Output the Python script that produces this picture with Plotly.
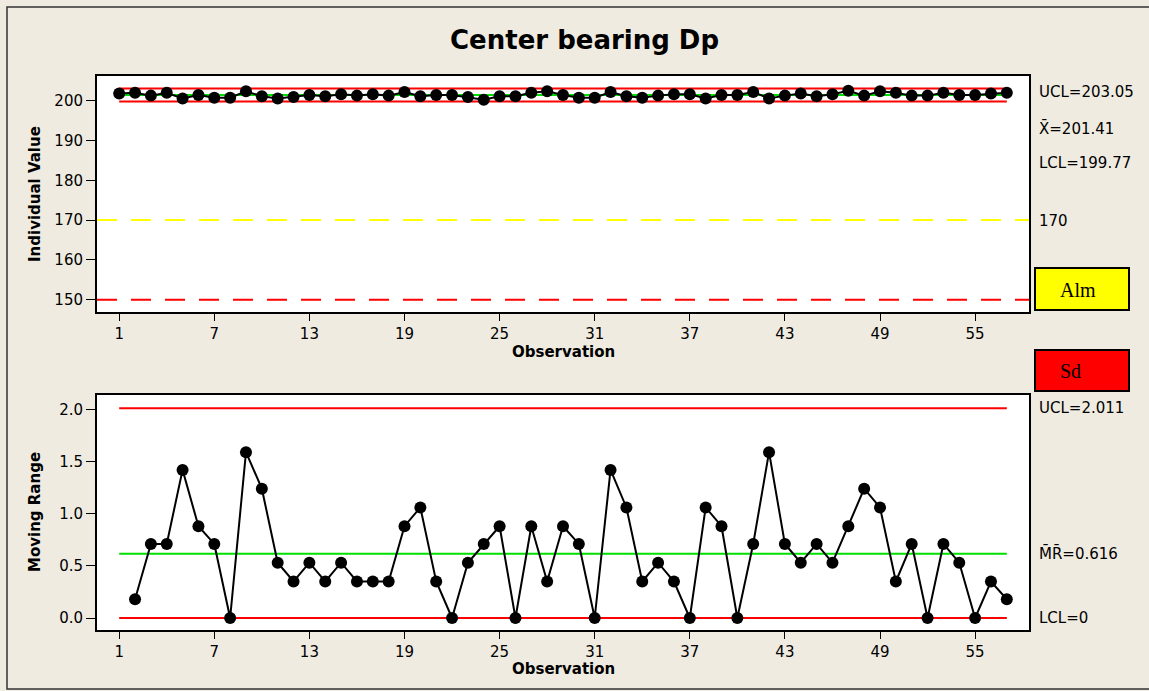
import plotly.graph_objects as go

# ---------------- data ----------------
observations = list(range(1, 58))
individual_values = [
    201.80, 201.98, 201.27, 201.98, 200.57, 201.45, 200.74, 200.74, 202.34, 201.10,
    200.57, 200.92, 201.45, 201.10, 201.63, 201.27, 201.63, 201.27, 202.16, 201.10,
    201.45, 201.45, 200.92, 200.21, 201.10, 201.10, 201.98, 202.34, 201.45, 200.74,
    200.74, 202.16, 201.10, 200.74, 201.27, 201.63, 201.63, 200.57, 201.45, 201.45,
    202.16, 200.57, 201.27, 201.80, 201.10, 201.63, 202.51, 201.27, 202.34, 201.98,
    201.27, 201.27, 201.98, 201.45, 201.45, 201.80, 201.98,
]
mr_observations = list(range(2, 58))
moving_ranges = [
    0.18, 0.71, 0.71, 1.42, 0.88, 0.71, 0.00, 1.59, 1.24, 0.53,
    0.35, 0.53, 0.35, 0.53, 0.35, 0.35, 0.35, 0.88, 1.06, 0.35,
    0.00, 0.53, 0.71, 0.88, 0.00, 0.88, 0.35, 0.88, 0.71, 0.00,
    1.42, 1.06, 0.35, 0.53, 0.35, 0.00, 1.06, 0.88, 0.00, 0.71,
    1.59, 0.71, 0.53, 0.71, 0.53, 0.88, 1.24, 1.06, 0.35, 0.71,
    0.00, 0.71, 0.53, 0.00, 0.35, 0.18,
]
ucl_x, center_x, lcl_x = 203.05, 201.41, 199.77
alarm_limit, stop_limit = 170, 150
ucl_mr, center_mr, lcl_mr = 2.011, 0.616, 0
x_ticks = [1, 7, 13, 19, 25, 31, 37, 43, 49, 55]
y1_ticks = [150, 160, 170, 180, 190, 200]
y2_ticks = [0.0, 0.5, 1.0, 1.5, 2.0]

title_text = "Center bearing Dp"
right_labels_top = ["UCL=203.05", "X\u0304=201.41", "LCL=199.77", "170"]
right_labels_bottom = ["UCL=2.011", "M\u0304R\u0304=0.616", "LCL=0"]

# ---------------- layout helpers ----------------
W, H = 1149, 691
def px(x):
    return x / W
def py(y):
    return 1 - y / H

FONT = "DejaVu Sans"
RED, GREEN, YEL = "#FF0000", "#00E000", "#FFFF00"
BG = "#EFEBE1"

fig = go.Figure()

first, last = observations[0], observations[-1]

# Top: control lines
for val, col in [(ucl_x, RED), (lcl_x, RED), (center_x, GREEN)]:
    fig.add_trace(go.Scatter(x=[first, last], y=[val, val], mode="lines",
                             line=dict(color=col, width=2), xaxis="x", yaxis="y",
                             hoverinfo="skip", showlegend=False))
fig.add_trace(go.Scatter(x=observations, y=individual_values, mode="lines+markers",
                         line=dict(color="black", width=2),
                         marker=dict(color="black", size=12),
                         xaxis="x", yaxis="y", showlegend=False))

# Bottom: control lines
for val, col in [(ucl_mr, RED), (lcl_mr, RED), (center_mr, GREEN)]:
    fig.add_trace(go.Scatter(x=[first, last], y=[val, val], mode="lines",
                             line=dict(color=col, width=2), xaxis="x2", yaxis="y2",
                             hoverinfo="skip", showlegend=False))
fig.add_trace(go.Scatter(x=mr_observations, y=moving_ranges, mode="lines+markers",
                         line=dict(color="black", width=2),
                         marker=dict(color="black", size=12),
                         xaxis="x2", yaxis="y2", showlegend=False))

shapes = [
    # alarm / stop dashed lines across full plot width
    dict(type="line", xref="x domain", yref="y", x0=0, x1=1, y0=alarm_limit, y1=alarm_limit,
         line=dict(color=YEL, width=2, dash="20px,14px")),
    dict(type="line", xref="x domain", yref="y", x0=0, x1=1, y0=stop_limit, y1=stop_limit,
         line=dict(color=RED, width=2, dash="20px,14px")),
    # legend boxes
    dict(type="rect", xref="paper", yref="paper", x0=px(1035), x1=px(1129), y0=py(310), y1=py(268),
         fillcolor=YEL, line=dict(color="black", width=2)),
    dict(type="rect", xref="paper", yref="paper", x0=px(1035), x1=px(1129), y0=py(391), y1=py(350),
         fillcolor=RED, line=dict(color="black", width=2)),
    # outer border
    dict(type="rect", xref="paper", yref="paper", x0=px(7), x1=px(1160), y0=py(689), y1=py(7),
         line=dict(color="#333333", width=1.5)),
]

def ann(text, x, y, size=15, family=FONT, angle=0, xanchor="center"):
    return dict(text=text, xref="paper", yref="paper", x=px(x), y=py(y),
                xanchor=xanchor, yanchor="middle", textangle=angle, showarrow=False,
                font=dict(family=family, size=size, color="black"))

annotations = [
    ann("<b>" + title_text + "</b>", 584, 40, size=26),
    ann("<b>Individual Value</b>", 35, 194, angle=-90),
    ann("<b>Moving Range</b>", 35, 512, angle=-90),
    ann("<b>Observation</b>", 563, 352),
    ann("<b>Observation</b>", 563, 669),
    ann("Alm", 1078, 290, size=20, family="Liberation Serif"),
    ann("Sd", 1070, 371, size=20, family="Liberation Serif"),
]
for txt, yy in zip(right_labels_top, [92, 129, 163, 221]):
    annotations.append(ann(txt, 1037, yy, xanchor="left"))
for txt, yy in zip(right_labels_bottom, [408, 553, 618]):
    annotations.append(ann(txt, 1037, yy, xanchor="left"))

axis_common = dict(showline=True, linecolor="black", linewidth=2, mirror=True,
                   showgrid=False, zeroline=False, ticks="outside", tickcolor="black",
                   tickfont=dict(family=FONT, size=15, color="black"))

fig.update_layout(
    width=W, height=H,
    margin=dict(l=0, r=0, t=0, b=0),
    paper_bgcolor=BG, plot_bgcolor="white",
    showlegend=False,
    xaxis=dict(domain=[px(97), px(1029)], range=[-0.4, 58.4], tickvals=x_ticks,
               ticklen=7, anchor="y", **axis_common),
    yaxis=dict(domain=[py(312), py(76)], range=[146.9, 206.2], tickvals=y1_ticks,
               ticklen=9, anchor="x", **axis_common),
    xaxis2=dict(domain=[px(97), px(1029)], range=[-0.4, 58.4], tickvals=x_ticks,
                ticklen=7, anchor="y2", **axis_common),
    yaxis2=dict(domain=[py(630), py(395)], range=[-0.115, 2.138], tickvals=y2_ticks,
                tickformat=".1f", ticklen=9, anchor="x2", **axis_common),
    shapes=shapes,
    annotations=annotations,
)

fig.write_html("out.html",
               config={"displayModeBar": False},
               post_script="document.body.style.margin='0';document.body.style.overflow='hidden';")
